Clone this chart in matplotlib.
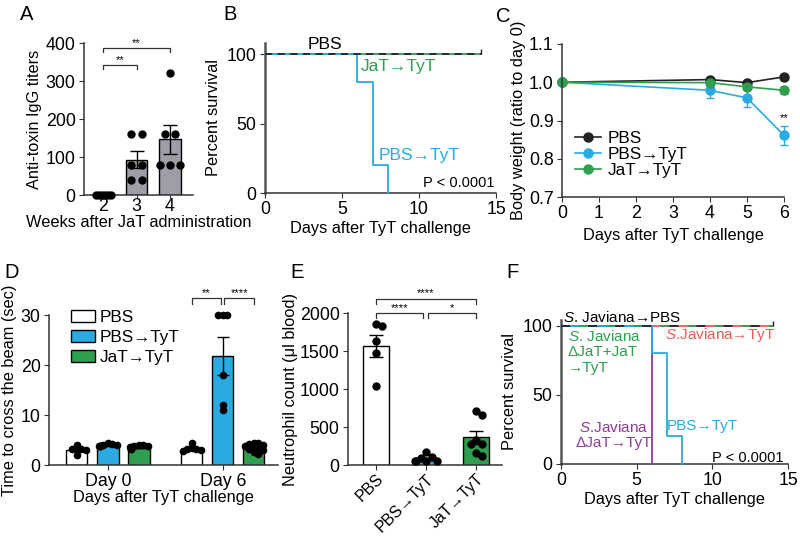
import numpy as np
import matplotlib
matplotlib.use('Agg')
import matplotlib.pyplot as plt
from matplotlib.patches import Patch
from matplotlib.lines import Line2D

plt.rcParams['font.family'] = ['Liberation Sans', 'Inter', 'DejaVu Sans']
plt.rcParams['mathtext.fontset'] = 'custom'
plt.rcParams['mathtext.rm'] = 'Liberation Sans'
plt.rcParams['mathtext.it'] = 'Liberation Sans:italic'
plt.rcParams['font.size'] = 12
plt.rcParams['axes.labelsize'] = 11.8
plt.rcParams['axes.linewidth'] = 1.1
plt.rcParams['axes.edgecolor'] = '#333333'
plt.rcParams['xtick.major.size'] = 3.5
plt.rcParams['ytick.major.size'] = 3.5
plt.rcParams['xtick.major.pad'] = 2.5
plt.rcParams['ytick.major.pad'] = 2.5
plt.rcParams['xtick.color'] = '#333333'
plt.rcParams['ytick.color'] = '#333333'
plt.rcParams['xtick.labelcolor'] = 'black'
plt.rcParams['ytick.labelcolor'] = 'black'
plt.rcParams['xtick.labelsize'] = 12.8
plt.rcParams['ytick.labelsize'] = 12.8

BLUE = '#29abe2'
GREEN = '#2f9e4f'
GRAY = '#9d9ea6'
RED = '#ef5a55'
PURPLE = '#8e3c97'
BLACK = '#222222'

# ---- A: anti-toxin IgG titers
weeks = [2, 3, 4]
titer_mean = [0, 93, 147]
titer_sem = [0, 22, 38]
titer_dots = [[0, 0, 0, 0, 0, 0],
              [160, 160, 80, 80, 40, 40],
              [320, 160, 160, 80, 80, 80]]

# ---- B: survival after TyT challenge
b_pbs_t = [0, 14]
b_pbs_s = [100, 100]
b_jat_t = [0, 14]
b_jat_s = [100, 100]
b_pbstyt_t = [0, 6, 7, 8]
b_pbstyt_s = [100, 80, 20, 0]

# ---- C: body weight
c_days = [0, 4, 5, 6]
c_pbs = [1.0, 1.007, 0.999, 1.014]
c_pbs_err = [0, 0.003, 0.003, 0.003]
c_pbstyt = [1.0, 0.979, 0.959, 0.861]
c_pbstyt_err = [0, 0.02, 0.023, 0.024]
c_jat = [1.0, 0.999, 0.988, 0.979]
c_jat_err = [0, 0.004, 0.006, 0.009]

# ---- D: beam crossing
groups = ['PBS', 'PBS→TyT', 'JaT→TyT']
day_labels = ['Day 0', 'Day 6']
beam_mean = [[3.1, 3.2], [3.95, 21.8], [3.5, 3.5]]
beam_sem = [[0.3, 0.25], [0.1, 3.8], [0.1, 0.2]]
beam_dots = [
    [[4.1, 3.3, 3.3, 3.2, 3.0, 2.0], [4.4, 3.4, 3.3, 3.2, 3.0, 2.9]],
    [[4.4, 4.2, 4.1, 4.0, 3.9, 3.9, 3.8, 3.8], [30, 30, 30, 18, 12, 11]],
    [[4.0, 4.0, 3.9, 3.8, 3.6, 3.6, 3.5, 3.4, 3.3, 3.2],
     [4.5, 4.4, 4.2, 4.0, 3.8, 3.6, 3.5, 3.3, 3.0, 2.6, 2.2]],
]

# ---- E: neutrophils
neut_mean = [1560, 80, 364]
neut_sem = [145, 18, 85]
neut_dots = [[1855, 1834, 1631, 1473, 1046],
             [167, 110, 97, 57, 57, 57, 48],
             [707, 659, 334, 277, 277, 158, 114]]

# ---- F: survival after S. Javiana infection
f_jav_pbs_t = [0, 14]
f_jav_pbs_s = [100, 100]
f_jav_tyt_t = [0, 14]
f_jav_tyt_s = [100, 100]
f_comp_t = [0, 14]
f_comp_s = [100, 100]
f_djat_t = [0, 6]
f_djat_s = [100, 0]
f_pbstyt_t = [0, 6, 7, 8]
f_pbstyt_s = [100, 80, 20, 0]

fig = plt.figure(figsize=(8, 5.38), dpi=100)
W, H = 800, 538


def add_ax(l, r, t, b):
    # pixel box -> figure fraction
    return fig.add_axes([l / W, 1 - b / H, (r - l) / W, (b - t) / H])


def clean(ax):
    ax.spines['top'].set_visible(False)
    ax.spines['right'].set_visible(False)


def bracket(ax, x1, x2, y, h, txt, fs=8):
    ax.plot([x1, x1, x2, x2], [y - h, y, y, y - h], color='#333333', lw=0.9, clip_on=False)
    ax.text((x1 + x2) / 2, y, txt, ha='center', va='bottom', fontsize=fs, clip_on=False)


def swarm(ax, x0, vals, dist, ms, maxoff=None):
    # simple beeswarm in pixel space
    tr = ax.transData
    placed = []
    xs = []
    for v in vals:
        px0, py = tr.transform((x0, v))
        k = 0
        cand = px0
        while any((cand - qx) ** 2 + (py - qy) ** 2 < dist ** 2 for qx, qy in placed):
            k += 1
            cand = px0 + ((k + 1) // 2) * dist * (1 if k % 2 else -1)
            if maxoff is not None and abs(cand - px0) > maxoff:
                cand = px0 + ((k % 5) - 2) * maxoff / 2.5
                break
        placed.append((cand, py))
        xs.append(tr.inverted().transform((cand, py))[0])
    ax.plot(xs, vals, 'o', color='black', ms=ms, clip_on=False, zorder=5)


# ================= A
axA = add_ax(84, 193, 43, 195)
clean(axA)
axA.set_xlim(1.42, 4.7)
axA.set_ylim(0, 400)
axA.bar(weeks, titer_mean, width=0.66, color=GRAY, edgecolor='black', lw=1.0, zorder=2)
axA.errorbar(weeks[1:], titer_mean[1:], yerr=titer_sem[1:], fmt='none', ecolor='black',
             elinewidth=1.0, capsize=5, capthick=1.0, zorder=4)
steps = [0.09, 0.33, 0.3]
for w, vals, st in zip(weeks, titer_dots, steps):
    vals = np.array(vals)
    xs = np.zeros(len(vals))
    for u in np.unique(vals):
        idx = np.where(vals == u)[0]
        xs[idx] = w + (np.arange(len(idx)) - (len(idx) - 1) / 2) * st
    axA.plot(xs, vals, 'o', color='black', ms=5, clip_on=False, zorder=5)
axA.set_xticks(weeks)
axA.tick_params(axis='x', length=2, pad=0.5)
axA.set_yticks([0, 100, 200, 300, 400])
axA.set_ylabel('Anti-toxin IgG titers', labelpad=3)
axA.set_xlabel('Weeks after JaT administration', labelpad=0)
bracket(axA, 2, 3, 342, 10, '**')
bracket(axA, 2, 4, 386, 10, '**')

# ================= B
axB = add_ax(265, 496, 43, 193)
clean(axB)
axB.spines['left'].set_linewidth(1.8)
axB.spines['left'].set_color('#555555')
axB.set_xlim(0, 15)
axB.set_ylim(0, 108)
axB.plot(b_jat_t, b_jat_s, color=GREEN, lw=1.3, zorder=2, clip_on=False)
axB.step(b_pbstyt_t, b_pbstyt_s, where='post', color=BLUE, lw=1.3, zorder=3, clip_on=False)
axB.plot(b_pbs_t, b_pbs_s, color=BLACK, lw=1.3, ls=(0, (4, 3)), zorder=4, clip_on=False)
axB.plot(b_pbs_t[-1:], b_pbs_s[-1:], marker=[(0, 0), (0, 1)], ms=7, mew=1.0,
         color=BLACK, clip_on=False)
axB.set_xticks([0, 5, 10, 15])
axB.set_yticks([0, 50, 100])
axB.set_ylabel('Percent survival', labelpad=4)
axB.set_xlabel('Days after TyT challenge', labelpad=2)
axB.text(3.9, 101.5, 'PBS', ha='center', va='bottom', fontsize=12.5)
axB.text(6.2, 91, 'JaT→TyT', ha='left', va='center', color=GREEN, fontsize=12.5)
axB.text(7.4, 27, 'PBS→TyT', ha='left', va='center', color=BLUE, fontsize=12.5)
axB.text(14.9, 7, 'P < 0.0001', ha='right', va='center', fontsize=10.5)

# ================= C
axC = add_ax(562, 784, 44, 197)
clean(axC)
axC.set_xlim(0, 6)
axC.set_ylim(0.7, 1.1)
c_series = [(c_pbs, c_pbs_err, BLACK, 'PBS'),
            (c_pbstyt, c_pbstyt_err, BLUE, 'PBS→TyT'),
            (c_jat, c_jat_err, GREEN, 'JaT→TyT')]
for y, e, col, lab in c_series:
    axC.errorbar(c_days, y, yerr=e, color=col, marker='o', ms=6.5, lw=1.2,
                 elinewidth=1.0, capsize=3, ecolor=col, clip_on=False)
axC.set_xticks(range(7))
axC.set_yticks([0.7, 0.8, 0.9, 1.0, 1.1])
axC.set_yticklabels(['0.7', '0.8', '0.9', '1.0', '1.1'])
axC.set_ylabel('Body weight (ratio to day 0)', labelpad=2)
axC.set_xlabel('Days after TyT challenge', labelpad=4)
axC.text(6, 0.892, '**', ha='center', va='bottom', fontsize=8)
c_handles = [Line2D([], [], color=col, marker='o', ms=6.5, lw=1.2) for _, _, col, _ in c_series]
axC.legend(c_handles, [s[3] for s in c_series], loc='lower left', bbox_to_anchor=(0.03, 0.08),
           frameon=False, fontsize=12.3, handlelength=1.5, handletextpad=0.4,
           labelspacing=0.05, borderaxespad=0)

# ================= D
axD = add_ax(49, 278, 315, 465)
clean(axD)
centers = [0, 3.7]
offs = [-1, 0, 1]
bar_cols = ['white', BLUE, GREEN]
axD.set_xlim(-1.9, 5.48)
axD.set_ylim(0, 30)
for gi in range(3):
    xs = [c + offs[gi] for c in centers]
    axD.bar(xs, beam_mean[gi], width=0.68, color=bar_cols[gi], edgecolor='black', lw=1.0, zorder=2)
    axD.errorbar(xs, beam_mean[gi], yerr=beam_sem[gi], fmt='none', ecolor='black',
                 elinewidth=1.0, capsize=4, zorder=4)
for gi in range(3):
    for di in range(2):
        swarm(axD, centers[di] + offs[gi], beam_dots[gi][di], 4.5, 4.5, maxoff=10)
axD.set_xticks(centers)
axD.set_xticklabels(day_labels)
axD.set_yticks([0, 10, 20, 30])
axD.set_ylabel('Time to cross the beam (sec)', labelpad=3)
axD.set_xlabel('Days after TyT challenge', labelpad=0)
bracket(axD, centers[1] - 1, centers[1] - 0.05, 33.4, 1.1, '**')
bracket(axD, centers[1] + 0.05, centers[1] + 1, 33.4, 1.1, '****')
handles = [Patch(facecolor=c, edgecolor='black', lw=1.0) for c in bar_cols]
axD.legend(handles, groups, loc='upper left', bbox_to_anchor=(0.065, 1.08), frameon=False,
           fontsize=12.3, handlelength=1.4, handleheight=0.7, handletextpad=0.3,
           labelspacing=0.3, borderaxespad=0)

# ================= E
axE = add_ax(348, 502, 313, 465)
clean(axE)
xe = np.arange(3)
axE.set_xlim(-0.56, 2.52)
axE.set_ylim(0, 2000)
axE.bar(xe, neut_mean, width=0.52, color=bar_cols, edgecolor='black', lw=1.0, zorder=2)
axE.errorbar(xe, neut_mean, yerr=neut_sem, fmt='none', ecolor='black',
             elinewidth=1.0, capsize=5, zorder=4)
for i in range(3):
    swarm(axE, xe[i], neut_dots[i], 5.5, 5, maxoff=12)
axE.set_xticks(xe)
axE.set_xticklabels(groups, rotation=45, ha='right', rotation_mode='anchor', fontsize=11.5)
axE.tick_params(axis='x', pad=1)
axE.set_yticks([0, 500, 1000, 1500, 2000])
axE.set_ylabel('Neutrophil count (μl blood)', labelpad=1)
bracket(axE, 0, 0.94, 2000, 70, '****')
bracket(axE, 1.04, 2, 2000, 70, '*')
bracket(axE, 0, 2, 2190, 70, '****')

# ================= F
axF = add_ax(561, 788, 320, 464)
clean(axF)
axF.spines['left'].set_linewidth(1.8)
axF.spines['left'].set_color('#555555')
axF.set_xlim(0, 15)
axF.set_ylim(0, 104)
axF.plot(f_jav_tyt_t, f_jav_tyt_s, color=RED, lw=1.3, zorder=2, clip_on=False)
axF.step(f_djat_t, f_djat_s, where='post', color=PURPLE, lw=1.3, zorder=3, clip_on=False)
axF.step(f_pbstyt_t, f_pbstyt_s, where='post', color=BLUE, lw=1.3, zorder=3, clip_on=False)
axF.plot(f_comp_t, f_comp_s, color=GREEN, lw=1.3, ls=(5, (5, 10)), zorder=4, clip_on=False)
axF.plot(f_jav_pbs_t, f_jav_pbs_s, color=BLACK, lw=1.3, ls=(0, (5, 10)), zorder=5, clip_on=False)
axF.plot(f_jav_pbs_t[-1:], f_jav_pbs_s[-1:], marker=[(0, 0), (0, 1)], ms=7, mew=1.0,
         color=BLACK, clip_on=False)
axF.set_xticks([0, 5, 10, 15])
axF.set_yticks([0, 50, 100])
axF.set_ylabel('Percent survival', labelpad=4)
axF.set_xlabel('Days after TyT challenge', labelpad=2)
axF.text(0.1, 106, r'$\it{S}$. Javiana→PBS', ha='left', va='center', fontsize=11)
axF.text(0.45, 81, '$\\it{S}$. Javiana\nΔJaT+JaT\n→TyT', ha='left', va='center',
         color=GREEN, fontsize=11, linespacing=1.15)
axF.text(6.9, 93.5, r'$\it{S}$.Javiana→TyT', ha='left', va='center', color=RED, fontsize=11)
axF.text(3.5, 21, '$\\it{S}$.Javiana\nΔJaT→TyT', ha='center', va='center', color=PURPLE,
         fontsize=11, linespacing=1.15)
axF.text(7.0, 27.5, 'PBS→TyT', ha='left', va='center', color=BLUE, fontsize=11)
axF.text(14.7, 4.5, 'P < 0.0001', ha='right', va='center', fontsize=10.5)

# panel letters
for lab, x, y in [('A', 27, 15), ('B', 230, 15), ('C', 503, 16),
                  ('D', 12, 273), ('E', 297, 273), ('F', 513, 273)]:
    fig.text(x / W, 1 - y / H, lab, fontsize=14.5, ha='center', va='center')

fig.savefig('out.png', dpi=100)
